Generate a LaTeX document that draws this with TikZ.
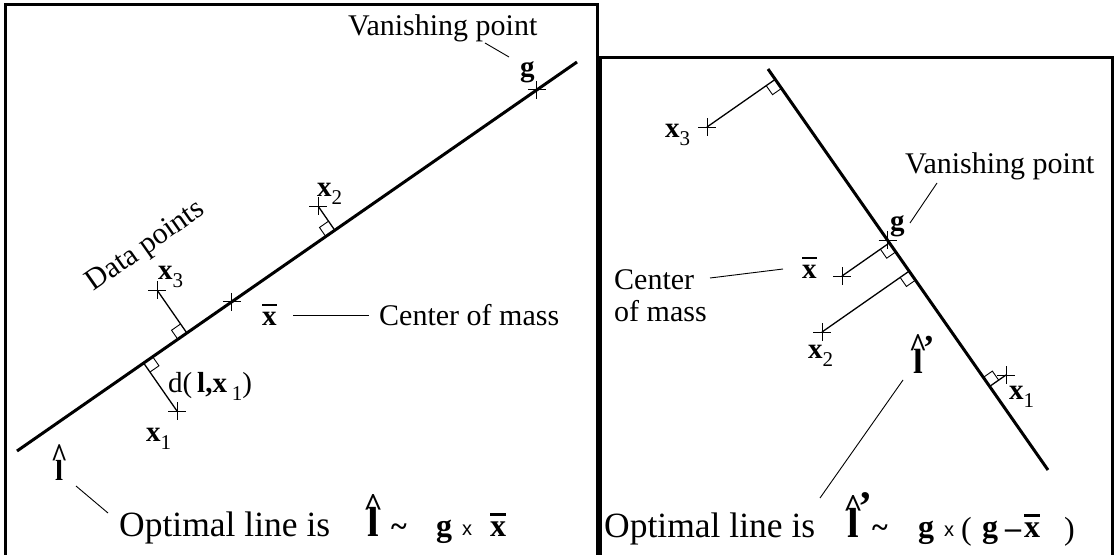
\documentclass[tikz,border=0pt]{standalone}
\usepackage{fontspec}
\usepackage{graphicx}
\setmainfont{Liberation Serif}
\newfontfamily\sansf{Liberation Sans}
\usetikzlibrary{calc}
\newcommand{\bx}{\textbf{x}}
\newcommand{\subs}[1]{\raisebox{-0.28em}{\fontsize{21}{21}\selectfont #1}}
\newcommand{\xbar}{\leavevmode\rlap{\rule[0.64em]{0.5em}{0.07em}}\textbf{x}}
% \lhatg{x-scale}{y-scale}{raise}
\newcommand{\lhatg}[3]{\leavevmode\ooalign{\hfil\textbf{l}\hfil\cr\hidewidth\raisebox{#3}{\scalebox{#1}[#2]{\textbf{\textasciicircum}}}\hidewidth\cr}}
\newcommand{\lprime}[1][0.4em]{\raisebox{#1}{\bfseries\textquoteright}}
\newcommand{\ramark}[3]{\draw[ra] ($(#1)!11pt!(#2)$) -- ($(#1)!11pt!(#2)+(#1)!11pt!(#3)-(#1)$) -- ($(#1)!11pt!(#3)$);}
\tikzset{
  plusmark/.pic={\draw[line width=1pt] (-9,0)--(9,0) (0,-9)--(0,9);},
  lab/.style={font=\fontsize{30}{34}\selectfont, inner sep=0pt},
  sym/.style={font=\fontsize{29}{34}\selectfont, inner sep=0pt},
  big/.style={font=\fontsize{35.5}{40}\selectfont, inner sep=0pt},
  fsym/.style={font=\fontsize{32}{36}\selectfont, inner sep=0pt, anchor=base west},
  fhat/.style={font=\fontsize{42}{46}\selectfont, inner sep=0pt, anchor=base west},
  ftimes/.style={font=\fontsize{20}{24}\selectfont\sansf, inner sep=0pt, anchor=base west},
  fparen/.style={font=\fontsize{32}{36}\selectfont, inner sep=0pt, anchor=base west},
  optline/.style={line width=3pt},
  perp/.style={line width=1.3pt},
  leader/.style={line width=0.9pt},
  frame/.style={line width=3pt},
  ra/.style={line width=0.9pt}
}
\begin{document}
\begin{tikzpicture}[x=1pt,y=-1pt]
\useasboundingbox (0,0) rectangle (1115,554);
\clip (0,0) rectangle (1115,554);
% frames
\draw[frame] (5,4) rectangle (597.5,580);
\draw[frame] (600,57) rectangle (1112,580);

% ---------------- left panel ----------------
\coordinate (LA) at (17,451);
\coordinate (LB) at (577,62);
\draw[optline] (LA) -- (LB);
\coordinate (g1) at ($(LA)!(537,90)!(LB)$);
\coordinate (xm1) at ($(LA)!(232,302)!(LB)$);
\coordinate (p1) at (177,411);
\coordinate (p2) at (318,206);
\coordinate (p3) at (157,290);
\coordinate (f1) at ($(LA)!(p1)!(LB)$);
\coordinate (f2) at ($(LA)!(p2)!(LB)$);
\coordinate (f3) at ($(LA)!(p3)!(LB)$);
\draw[perp] (p1) -- (f1);
\draw[perp] (p2) -- (f2);
\draw[perp] (p3) -- (f3);
\ramark{f1}{p1}{LB}
\ramark{f2}{p2}{LA}
\ramark{f3}{p3}{LA}
\pic at (g1) {plusmark};
\pic at (xm1) {plusmark};
\pic at (p1) {plusmark};
\pic at (p2) {plusmark};
\pic at (p3) {plusmark};

\node[lab, anchor=base west] (vp1) at (348,35) {Vanishing point};
\node[sym, anchor=base west] (gl1) at (520,76) {\textbf{g}};
\coordinate (vp1a) at (485,43);
\coordinate (vp1b) at (509,57);
\draw[leader] (vp1a) -- (vp1b);
\node[sym, anchor=base west] (x2l) at (317,196) {\bx\subs{2}};
\node[sym, anchor=base west] (x3l) at (158,279) {\bx\subs{3}};
\node[lab, rotate=35] (dp) at (146,247) {Data points};
\node[sym, anchor=base west] (xml1) at (262,325) {\xbar};
\coordinate (cm1a) at (293,315);
\coordinate (cm1b) at (369,315);
\draw[leader] (cm1a) -- (cm1b);
\node[lab, anchor=base west] (cm1) at (379,325) {Center of mass};
\node[sym, anchor=base west] (dl) at (168,392) {d(\,\textbf{l,x}\,\subs{1})};
\node[sym, anchor=base west] (x1l) at (146,441) {\bx\subs{1}};
\node[sym, anchor=base west] (lh1) at (55,480) {\lhatg{1}{1.2}{0.42em}};
\coordinate (lh1a) at (76,486);
\coordinate (lh1b) at (108,513);
\draw[leader] (lh1a) -- (lh1b);
\node[big, anchor=base west] (opt1) at (119,536) {Optimal line is};
\node[fhat] (f1l) at (367,536) {\lhatg{0.8}{0.8}{0.47em}};
\node[fsym, font=\fontsize{30}{34}\selectfont\bfseries] (t1) at (391,536) {\textasciitilde};
\node[fsym] (fg1) at (436,536) {\textbf{g}};
\node[ftimes] (fx1) at (462,535) {x};
\node[fsym] (fxm1) at (490,536) {\xbar};

% ---------------- right panel ----------------
\coordinate (RA) at (768,69);
\coordinate (RB) at (1048,470);
\draw[optline] (RA) -- (RB);
\coordinate (g2) at ($(RA)!(888,240)!(RB)$);
\coordinate (xm2) at (842,276);
\coordinate (q1) at (1006,375);
\coordinate (q2) at (822,332);
\coordinate (q3) at (707,127);
\coordinate (h1) at ($(RA)!(q1)!(RB)$);
\coordinate (h2) at ($(RA)!(q2)!(RB)$);
\coordinate (h3) at ($(RA)!(q3)!(RB)$);
\coordinate (hm) at ($(RA)!(xm2)!(RB)$);
\draw[perp] (q1) -- (h1);
\draw[perp] (q2) -- (h2);
\draw[perp] (q3) -- (h3);
\draw[perp] (xm2) -- (hm);
\ramark{h1}{q1}{RA}
\ramark{h2}{q2}{RB}
\ramark{h3}{q3}{RB}
\ramark{hm}{xm2}{RB}
\pic at (g2) {plusmark};
\pic at (xm2) {plusmark};
\pic at (q1) {plusmark};
\pic at (q2) {plusmark};
\pic at (q3) {plusmark};

\node[lab, anchor=base west] (vp2) at (905,173) {Vanishing point};
\coordinate (vp2a) at (937,183);
\coordinate (vp2b) at (910,223);
\draw[leader] (vp2a) -- (vp2b);
\node[sym, anchor=base west] (gl2) at (890,230) {\textbf{g}};
\node[sym, anchor=base west] (xml2) at (802,278) {\xbar};
\coordinate (cm2a) at (710,278);
\coordinate (cm2b) at (783,269);
\draw[leader] (cm2a) -- (cm2b);
\node[lab, anchor=base west] (cm2) at (614,289) {Center};
\node[lab, anchor=base west] (cm2c) at (614,321) {of mass};
\node[sym, anchor=base west] (x3r) at (665,137) {\bx\subs{3}};
\node[sym, anchor=base west] (x2r) at (808,358) {\bx\subs{2}};
\node[sym, anchor=base west] (x1r) at (1009,399) {\bx\subs{1}};
\node[inner sep=0pt, font=\fontsize{35}{40}\selectfont, anchor=base west] (lh2) at (913,373) {\lhatg{0.9}{1}{0.44em}\lprime};
\coordinate (lh2a) at (903,380);
\coordinate (lh2b) at (820,498);
\draw[leader] (lh2a) -- (lh2b);
\node[big, anchor=base west] (opt2) at (604,537) {Optimal line is};
\node[fhat] (f2l) at (847,537) {\lhatg{0.8}{0.8}{0.47em}\lprime};
\node[fsym, font=\fontsize{30}{34}\selectfont\bfseries] (t2) at (872,537) {\textasciitilde};
\node[fsym] (fg2) at (918,537) {\textbf{g}};
\node[ftimes] (fx2) at (944,536) {x};
\node[fparen] (lp) at (961,539) {(};
\node[fsym] (fg3) at (982,537) {\textbf{g}};
\node[fsym, font=\fontsize{32}{36}\selectfont\bfseries] (mn) at (1005,538) {\textendash};
\node[fsym] (fxm2) at (1024,537) {\xbar};
\node[fparen] (rp) at (1064,539) {)};
\end{tikzpicture}
\end{document}
